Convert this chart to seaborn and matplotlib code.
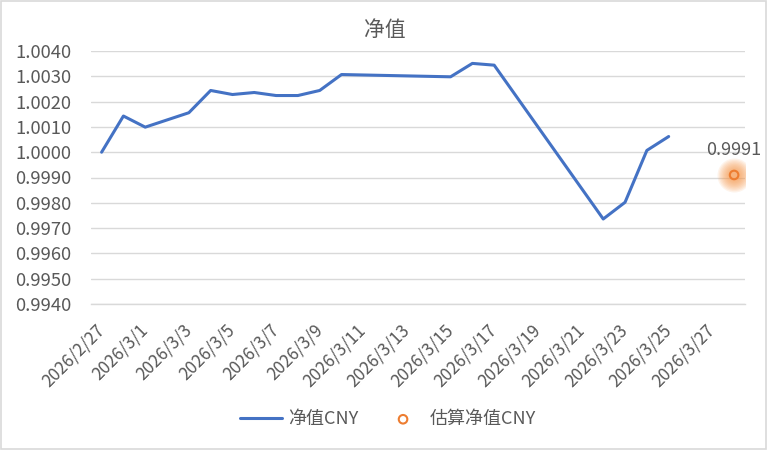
import pandas as pd
import numpy as np
import matplotlib
matplotlib.use("Agg")
import matplotlib.pyplot as plt
import matplotlib.dates as mdates
import seaborn as sns

# Data
nav_dates = ['2026-02-27', '2026-02-28', '2026-03-01', '2026-03-03', '2026-03-04',
             '2026-03-05', '2026-03-06', '2026-03-07', '2026-03-08', '2026-03-09',
             '2026-03-10', '2026-03-15', '2026-03-16', '2026-03-17', '2026-03-22',
             '2026-03-23', '2026-03-24', '2026-03-25']
nav_values = [1.0000, 1.00143, 1.00099, 1.00156, 1.00244,
              1.00228, 1.00236, 1.00224, 1.00224, 1.00244,
              1.00307, 1.00298, 1.00351, 1.00344, 0.99736,
              0.99802, 1.00007, 1.00062]
est_dates = ['2026-03-28']
est_values = [0.9991]
tick_dates = ['2026-02-27', '2026-03-01', '2026-03-03', '2026-03-05', '2026-03-07',
              '2026-03-09', '2026-03-11', '2026-03-13', '2026-03-15', '2026-03-17',
              '2026-03-19', '2026-03-21', '2026-03-23', '2026-03-25', '2026-03-27']
y_ticks = [0.9940, 0.9950, 0.9960, 0.9970, 0.9980, 0.9990,
           1.0000, 1.0010, 1.0020, 1.0030, 1.0040]

df = pd.DataFrame({'date': pd.to_datetime(nav_dates), 'nav': nav_values})
est = pd.DataFrame({'date': pd.to_datetime(est_dates), 'nav': est_values})

sns.set_style("white")
plt.rcParams['font.family'] = ['Noto Sans CJK SC', 'DejaVu Sans']
text_color = '#595959'
grid_color = '#D9D9D9'

fig = plt.figure(figsize=(7.7, 4.51), dpi=100)
ax = fig.add_axes([90.7 / 770, 1 - 304 / 451, (745 - 90.7) / 770, (304 - 51) / 451])

sns.lineplot(data=df, x='date', y='nav', ax=ax, color='#4472C4', linewidth=2.2,
             label='净值CNY', legend=False)

# soft glow behind the estimate
for r in np.linspace(17, 5, 10):
    ax.scatter(est['date'], est['nav'], s=(r * 0.72 * 2) ** 2, color='#F79646',
               alpha=0.11, linewidths=0, zorder=3)
sns.scatterplot(data=est, x='date', y='nav', ax=ax, marker='o', s=38,
                facecolor='none', edgecolor='#ED7D31', linewidth=1.5,
                label='估算净值CNY', legend=False, zorder=4)
ax.annotate('0.9991', (mdates.date2num(est['date'][0]), est_values[0]),
            xytext=(0, 18), textcoords='offset points', ha='center', va='center',
            fontsize=13, color=text_color)

# axes
start = mdates.date2num(pd.Timestamp('2026-02-27'))
ax.set_xlim(start - 0.5, start + 29.5)
ax.set_ylim(0.9940, 1.0040)
ax.set_yticks(y_ticks)
ax.set_yticklabels([f'{v:.4f}' for v in y_ticks])
ax.set_xticks(mdates.date2num(pd.to_datetime(tick_dates)))
ax.set_xticklabels([f'{d.year}/{d.month}/{d.day}' for d in pd.to_datetime(tick_dates)],
                   rotation=45, ha='right', va='center', rotation_mode='anchor')
ax.set_xticks(np.arange(start - 0.5, start + 30, 2), minor=True)
ax.tick_params(axis='x', which='major', length=0, pad=17, labelsize=12.3, colors=text_color)
ax.tick_params(axis='x', which='minor', length=5, width=1, color=grid_color, direction='out')
ax.tick_params(axis='y', length=0, pad=14, labelsize=13.3, colors=text_color)
ax.set_xlabel('')
ax.set_ylabel('')
ax.grid(axis='y', color=grid_color, linewidth=1)
ax.set_axisbelow(True)
for s in ['top', 'left', 'right']:
    ax.spines[s].set_visible(False)
ax.spines['bottom'].set_color(grid_color)
ax.spines['bottom'].set_linewidth(1)

fig.text(0.5, 1 - 30 / 451, '净值', ha='center', va='center', fontsize=15, color=text_color)

handles, labels = ax.get_legend_handles_labels()
fig.legend(handles, labels, loc='center', bbox_to_anchor=(388 / 770, 1 - 419 / 451), ncol=2,
           frameon=False, fontsize=13, labelcolor=text_color, handlelength=2.33,
           handletextpad=0.3, columnspacing=1.33)

fig.patches.append(plt.Rectangle((1 / 770, 2 / 451), 764.5 / 770, 448 / 451, transform=fig.transFigure,
                                 fill=False, edgecolor=grid_color, linewidth=1.2))

fig.savefig('out.png', dpi=100)
